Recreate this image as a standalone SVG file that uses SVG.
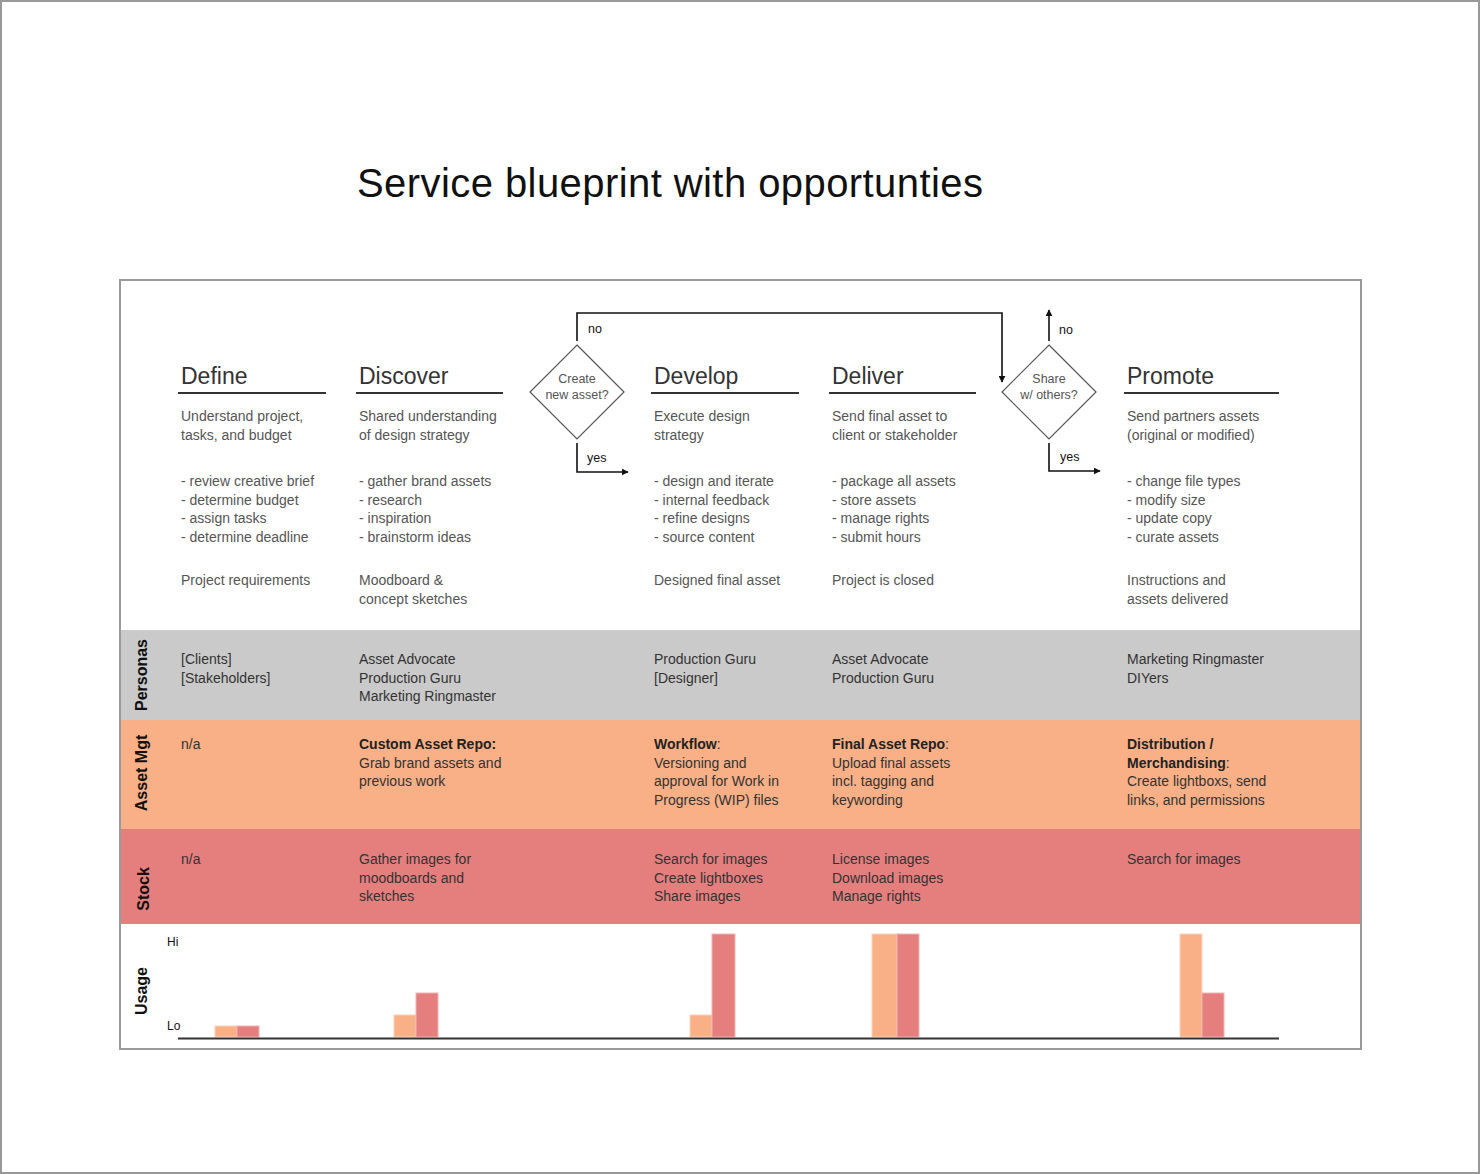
<svg xmlns="http://www.w3.org/2000/svg" width="1480" height="1174" viewBox="0 0 1480 1174">
<defs>
<marker id="arr" viewBox="0 0 10 10" refX="9" refY="5" markerWidth="7" markerHeight="7" markerUnits="userSpaceOnUse" orient="auto"><path d="M0,0 L10,5 L0,10 z" fill="#111"/></marker>
<style>
text{font-family:"Liberation Sans",Arial,sans-serif}
.title{font-size:40px;fill:#111}
.head{font-size:23px;fill:#333}
.t{font-size:14px;fill:#555}
.td{font-size:14px;fill:#333}
.b{font-weight:bold;fill:#222}
.lane{font-size:16px;font-weight:bold;fill:#111}
.dt{font-size:12.5px;fill:#555;text-anchor:middle}
.lbl{font-size:12.5px;fill:#111}
.ax{font-size:12px;fill:#111}
.ul{stroke:#333;stroke-width:2}
.con{fill:none;stroke:#111;stroke-width:1.6}
.dia{fill:#fff;stroke:#555;stroke-width:1.2}
.pe{fill:#f9b087;stroke:#fcd2bb;stroke-width:1}
.rd{fill:#e57f7e;stroke:#f2b3b2;stroke-width:1}
</style>
</defs>
<rect x="1" y="1" width="1478" height="1172" fill="#fff" stroke="#999" stroke-width="2"/>
<text class="title" x="357" y="197" textLength="626" lengthAdjust="spacing">Service blueprint with opportunties</text>

<g id="frame">
<rect x="120" y="280" width="1241" height="769" fill="#fff" stroke="#9a9a9a" stroke-width="2"/>
<rect x="121" y="630" width="1239" height="90" fill="#cacaca"/>
<rect x="121" y="720" width="1239" height="109" fill="#f9b087"/>
<rect x="121" y="829" width="1239" height="95" fill="#e57f7e"/>
</g>

<g id="lanes">
<text class="lane" transform="translate(147,675) rotate(-90)" text-anchor="middle">Personas</text>
<text class="lane" transform="translate(147,773) rotate(-90)" text-anchor="middle">Asset Mgt</text>
<text class="lane" transform="translate(149,889) rotate(-90)" text-anchor="middle">Stock</text>
<text class="lane" transform="translate(147,991) rotate(-90)" text-anchor="middle">Usage</text>
</g>

<g id="define">
<text class="head" x="181" y="384">Define</text>
<line class="ul" x1="178" y1="393" x2="326" y2="393"/>
<text class="t" x="181" y="421">Understand project,<tspan x="181" dy="18.5">tasks, and budget</tspan></text>
<text class="t" x="181" y="486">- review creative brief<tspan x="181" dy="18.5">- determine budget</tspan><tspan x="181" dy="18.5">- assign tasks</tspan><tspan x="181" dy="18.5">- determine deadline</tspan></text>
<text class="t" x="181" y="585">Project requirements</text>
<text class="td" x="181" y="664">[Clients]<tspan x="181" dy="18.5">[Stakeholders]</tspan></text>
<text class="td" x="181" y="749">n/a</text>
<text class="td" x="181" y="864">n/a</text>
</g>

<g id="discover">
<text class="head" x="359" y="384">Discover</text>
<line class="ul" x1="356" y1="393" x2="503" y2="393"/>
<text class="t" x="359" y="421">Shared understanding<tspan x="359" dy="18.5">of design strategy</tspan></text>
<text class="t" x="359" y="486">- gather brand assets<tspan x="359" dy="18.5">- research</tspan><tspan x="359" dy="18.5">- inspiration</tspan><tspan x="359" dy="18.5">- brainstorm ideas</tspan></text>
<text class="t" x="359" y="585">Moodboard &amp;<tspan x="359" dy="18.5">concept sketches</tspan></text>
<text class="td" x="359" y="664">Asset Advocate<tspan x="359" dy="18.5">Production Guru</tspan><tspan x="359" dy="18.5">Marketing Ringmaster</tspan></text>
<text class="td" x="359" y="749"><tspan class="b">Custom Asset Repo:</tspan><tspan x="359" dy="18.5">Grab brand assets and</tspan><tspan x="359" dy="18.5">previous work</tspan></text>
<text class="td" x="359" y="864">Gather images for<tspan x="359" dy="18.5">moodboards and</tspan><tspan x="359" dy="18.5">sketches</tspan></text>
</g>

<g id="develop">
<text class="head" x="654" y="384">Develop</text>
<line class="ul" x1="651" y1="393" x2="799" y2="393"/>
<text class="t" x="654" y="421">Execute design<tspan x="654" dy="18.5">strategy</tspan></text>
<text class="t" x="654" y="486">- design and iterate<tspan x="654" dy="18.5">- internal feedback</tspan><tspan x="654" dy="18.5">- refine designs</tspan><tspan x="654" dy="18.5">- source content</tspan></text>
<text class="t" x="654" y="585">Designed final asset</text>
<text class="td" x="654" y="664">Production Guru<tspan x="654" dy="18.5">[Designer]</tspan></text>
<text class="td" x="654" y="749"><tspan class="b">Workflow</tspan>:<tspan x="654" dy="18.5">Versioning and</tspan><tspan x="654" dy="18.5">approval for Work in</tspan><tspan x="654" dy="18.5">Progress (WIP) files</tspan></text>
<text class="td" x="654" y="864">Search for images<tspan x="654" dy="18.5">Create lightboxes</tspan><tspan x="654" dy="18.5">Share images</tspan></text>
</g>

<g id="deliver">
<text class="head" x="832" y="384">Deliver</text>
<line class="ul" x1="829" y1="393" x2="976" y2="393"/>
<text class="t" x="832" y="421">Send final asset to<tspan x="832" dy="18.5">client or stakeholder</tspan></text>
<text class="t" x="832" y="486">- package all assets<tspan x="832" dy="18.5">- store assets</tspan><tspan x="832" dy="18.5">- manage rights</tspan><tspan x="832" dy="18.5">- submit hours</tspan></text>
<text class="t" x="832" y="585">Project is closed</text>
<text class="td" x="832" y="664">Asset Advocate<tspan x="832" dy="18.5">Production Guru</tspan></text>
<text class="td" x="832" y="749"><tspan class="b">Final Asset Repo</tspan>:<tspan x="832" dy="18.5">Upload final assets</tspan><tspan x="832" dy="18.5">incl. tagging and</tspan><tspan x="832" dy="18.5">keywording</tspan></text>
<text class="td" x="832" y="864">License images<tspan x="832" dy="18.5">Download images</tspan><tspan x="832" dy="18.5">Manage rights</tspan></text>
</g>

<g id="promote">
<text class="head" x="1127" y="384">Promote</text>
<line class="ul" x1="1124" y1="393" x2="1279" y2="393"/>
<text class="t" x="1127" y="421">Send partners assets<tspan x="1127" dy="18.5">(original or modified)</tspan></text>
<text class="t" x="1127" y="486">- change file types<tspan x="1127" dy="18.5">- modify size</tspan><tspan x="1127" dy="18.5">- update copy</tspan><tspan x="1127" dy="18.5">- curate assets</tspan></text>
<text class="t" x="1127" y="585">Instructions and<tspan x="1127" dy="18.5">assets delivered</tspan></text>
<text class="td" x="1127" y="664">Marketing Ringmaster<tspan x="1127" dy="18.5">DIYers</tspan></text>
<text class="td" x="1127" y="749"><tspan class="b">Distribution /</tspan><tspan x="1127" dy="18.5" class="b">Merchandising</tspan>:<tspan x="1127" dy="18.5">Create lightboxs, send</tspan><tspan x="1127" dy="18.5">links, and permissions</tspan></text>
<text class="td" x="1127" y="864">Search for images</text>
</g>

<g id="decision-create">
<polygon class="dia" points="577,345 624,392 577,439 530,392"/>
<text class="dt" x="577" y="383">Create</text>
<text class="dt" x="577" y="399">new asset?</text>
</g>

<g id="decision-share">
<polygon class="dia" points="1049,345 1096,392 1049,439 1002,392"/>
<text class="dt" x="1049" y="383">Share</text>
<text class="dt" x="1049" y="399">w/ others?</text>
</g>

<g id="connectors">
<polyline class="con" points="577,341 577,313 1002,313 1002,382" marker-end="url(#arr)"/>
<polyline class="con" points="577,443 577,472 628,472" marker-end="url(#arr)"/>
<polyline class="con" points="1049,341 1049,310" marker-end="url(#arr)"/>
<polyline class="con" points="1049,443 1049,471 1100,471" marker-end="url(#arr)"/>
<text class="lbl" x="588" y="333">no</text>
<text class="lbl" x="587" y="462">yes</text>
<text class="lbl" x="1059" y="334">no</text>
<text class="lbl" x="1060" y="461">yes</text>
</g>

<g id="usage">
<text class="ax" x="167" y="946">Hi</text>
<text class="ax" x="167" y="1030">Lo</text>
<rect class="pe" x="215" y="1026" width="22" height="11"/>
<rect class="rd" x="237" y="1026" width="22" height="11"/>
<rect class="pe" x="394" y="1015" width="22" height="22"/>
<rect class="rd" x="416" y="993" width="22" height="44"/>
<rect class="pe" x="690" y="1015" width="22" height="22"/>
<rect class="rd" x="712" y="934" width="23" height="103"/>
<rect class="pe" x="872" y="934" width="25" height="103"/>
<rect class="rd" x="897" y="934" width="22" height="103"/>
<rect class="pe" x="1180" y="934" width="22" height="103"/>
<rect class="rd" x="1202" y="993" width="22" height="44"/>
<line x1="178" y1="1038.5" x2="1279" y2="1038.5" stroke="#333" stroke-width="2"/>
</g>
</svg>
